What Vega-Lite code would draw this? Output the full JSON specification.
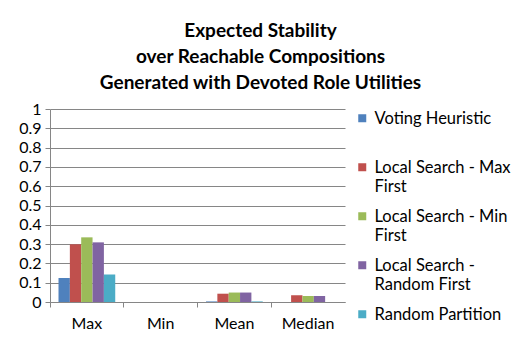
{
  "$schema": "https://vega.github.io/schema/vega-lite/v6.json",
  "autosize": "none",
  "width": 295,
  "height": 193,
  "padding": {"left": 50, "top": 109, "right": 171, "bottom": 37},
  "background": "white",
  "title": {
    "text": ["Expected Stability", "over Reachable Compositions", "Generated with Devoted Role Utilities"],
    "anchor": "middle",
    "frame": "group",
    "dx": 63,
    "offset": 8,
    "font": "Lato",
    "fontSize": 19,
    "fontWeight": "bold",
    "lineHeight": 26,
    "color": "black"
  },
  "data": {
    "values": [
      {"stat": "Max", "method": "Voting Heuristic", "value": 0.124},
      {"stat": "Max", "method": "Local Search - Max First", "value": 0.299},
      {"stat": "Max", "method": "Local Search - Min First", "value": 0.335},
      {"stat": "Max", "method": "Local Search - Random First", "value": 0.309},
      {"stat": "Max", "method": "Random Partition", "value": 0.143},
      {"stat": "Min", "method": "Voting Heuristic", "value": 0},
      {"stat": "Min", "method": "Local Search - Max First", "value": 0},
      {"stat": "Min", "method": "Local Search - Min First", "value": 0},
      {"stat": "Min", "method": "Local Search - Random First", "value": 0},
      {"stat": "Min", "method": "Random Partition", "value": 0},
      {"stat": "Mean", "method": "Voting Heuristic", "value": 0.003},
      {"stat": "Mean", "method": "Local Search - Max First", "value": 0.043},
      {"stat": "Mean", "method": "Local Search - Min First", "value": 0.049},
      {"stat": "Mean", "method": "Local Search - Random First", "value": 0.049},
      {"stat": "Mean", "method": "Random Partition", "value": 0.003},
      {"stat": "Median", "method": "Voting Heuristic", "value": 0},
      {"stat": "Median", "method": "Local Search - Max First", "value": 0.035},
      {"stat": "Median", "method": "Local Search - Min First", "value": 0.031},
      {"stat": "Median", "method": "Local Search - Random First", "value": 0.031},
      {"stat": "Median", "method": "Random Partition", "value": 0}
    ]
  },
  "mark": {"type": "bar"},
  "encoding": {
    "x": {
      "field": "stat",
      "type": "nominal",
      "sort": ["Max", "Min", "Mean", "Median"],
      "scale": {"paddingInner": 0, "paddingOuter": 0},
      "axis": {
        "title": null,
        "labelAngle": 0,
        "labelFont": "Lato",
        "labelFontSize": 16,
        "labelColor": "black",
        "labelPadding": 8,
        "domainColor": "#868686",
        "tickColor": "#868686",
        "tickSize": 5,
        "bandPosition": 0
      }
    },
    "xOffset": {
      "field": "method",
      "type": "nominal",
      "sort": ["Voting Heuristic", "Local Search - Max First", "Local Search - Min First", "Local Search - Random First", "Random Partition"],
      "scale": {"paddingInner": 0, "paddingOuter": 0.75}
    },
    "y": {
      "field": "value",
      "type": "quantitative",
      "scale": {"domain": [0, 1]},
      "axis": {
        "title": null,
        "tickCount": 10,
        "format": ".1~f",
        "labelFont": "Lato",
        "labelFontSize": 16,
        "labelColor": "black",
        "labelPadding": 4,
        "domainColor": "#868686",
        "tickColor": "#868686",
        "tickSize": 5,
        "gridColor": "#868686",
        "grid": true
      }
    },
    "color": {
      "field": "method",
      "type": "nominal",
      "sort": ["Voting Heuristic", "Local Search - Max First", "Local Search - Min First", "Local Search - Random First", "Random Partition"],
      "scale": {"range": ["#4F81BD", "#C0504D", "#9BBB59", "#8064A2", "#4BACC6"]},
      "legend": {
        "title": null,
        "orient": "none",
        "legendX": 304,
        "legendY": -6,
        "symbolType": "M-1,0.75H1V2.75H-1Z",
        "symbolSize": 64,
        "symbolStrokeWidth": 0,
        "labelFont": "Lato",
        "labelFontSize": 16.5,
        "labelColor": "black",
        "labelBaseline": "top",
        "labelLimit": 200,
        "rowPadding": 5,
        "labelExpr": "datum.label == 'Voting Heuristic' ? ['Voting Heuristic', ' '] : datum.label == 'Local Search - Max First' ? ['Local Search - Max', 'First'] : datum.label == 'Local Search - Min First' ? ['Local Search - Min', 'First'] : datum.label == 'Local Search - Random First' ? ['Local Search -', 'Random First'] : datum.label"
      }
    }
  },
  "config": {
    "view": {"stroke": null},
    "axis": {"domainWidth": 1, "gridWidth": 1}
  }
}
